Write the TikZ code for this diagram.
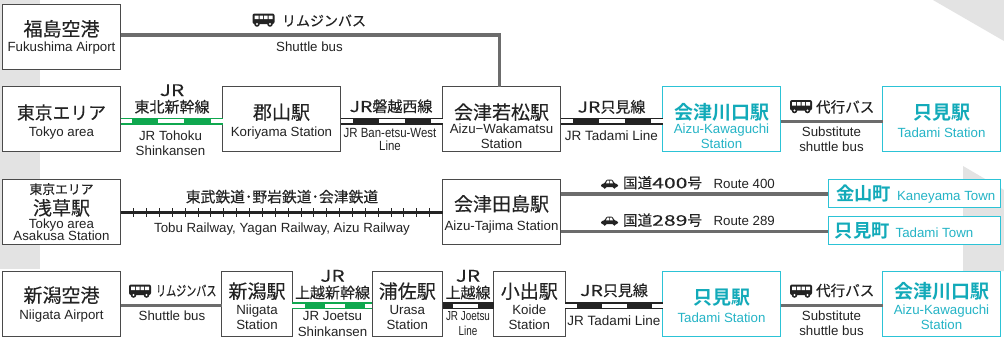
\documentclass[tikz,border=0pt]{standalone}
\usepackage{fontspec}
\setmainfont{Liberation Sans}
\newfontfamily\jpf[FakeBold=.2]{Noto Sans CJK JP}
\newfontfamily\jpb{Noto Sans CJK JP Bold}
\newfontfamily\jpn[FakeStretch=.72,FakeBold=.2]{Noto Sans CJK JP}
\newfontfamily\jpw[FakeStretch=1.3,FakeBold=.2]{Noto Sans CJK JP}
\newfontfamily\jpww[FakeStretch=1.45,FakeBold=.2]{Noto Sans CJK JP}
\newfontfamily\enc[FakeStretch=.86]{Liberation Sans}
\newfontfamily\encc[FakeStretch=.76]{Liberation Sans}
\definecolor{bgray}{HTML}{E3E3E3}
\definecolor{edgec}{HTML}{4A4A4A}
\definecolor{road}{HTML}{6C6C6C}
\definecolor{cy}{HTML}{2CC3D6}
\definecolor{cyt}{HTML}{12AAB9}
\definecolor{cye}{HTML}{25B4C6}
\definecolor{ink}{HTML}{232323}
\definecolor{jrg}{HTML}{0FA84F}
\newcommand{\J}[1]{{\fontsize{19}{19}\selectfont\jpf\color{ink}#1}}
\newcommand{\JT}[1]{{\fontsize{17.8}{19}\selectfont\jpf\color{ink}#1}}
\newcommand{\JC}[1]{{\fontsize{19}{19}\selectfont\jpb\color{cyt}#1}}
\newcommand{\JCS}[1]{{\fontsize{18.3}{19}\selectfont\jpb\color{cyt}#1}}
\newcommand{\JS}[1]{{\fontsize{12.8}{15}\selectfont\jpf\color{ink}#1}}
% lines of a label: last baseline sits #1 below the node centre, baselines #2 apart
\newcommand{\X}[1]{\cr\noalign{\vskip#1pt}}
\newcommand{\LN}[3]{\smash{\lower#1pt\vbox{\lineskiplimit=-50pt\baselineskip=#2pt\halign{\hfil##\hfil\cr#3\crcr}}}}
\tikzset{
 lab/.style={inner sep=0pt,outer sep=0pt},
 stbox/.style={lab,draw=edgec,fill=white,line width=1pt,text=ink,font=\fontsize{13.3}{14.7}\selectfont},
 cybox/.style={stbox,draw=cy,text=cye},
 sz/.style 2 args={minimum width=#1,minimum height=#2},
 en/.style={lab,anchor=base,text=ink,font=\fontsize{13.3}{14.8}\selectfont},
 jp/.style={lab,anchor=base,text=ink,font=\fontsize{15}{16.6}\selectfont\jpf},
 jr/.style={lab,anchor=base,text=ink,font=\fontsize{16}{17}\selectfont\jpw},
 roadl/.style={draw=road,line width=3.4pt},
 railk/.style={draw=ink,line width=7pt},
 railg/.style={draw=jrg,line width=7pt},
 inset/.style={draw=white,line width=4pt},
 busicon/.pic={
   \fill[ink,rounded corners=2pt] (-11,-6.5) rectangle (11,4);
   \fill[white] (-9,-4.3) rectangle (-5,-.8) (-4,-4.3) rectangle (-.5,-.8) (.5,-4.3) rectangle (4,-.8) (5,-4.3) rectangle (9,-.8);
   \fill[ink] (-6.5,4) circle (2.8) (6.5,4) circle (2.8);
   \fill[white] (-6.5,4) circle (1.1) (6.5,4) circle (1.1);
 },
 caricon/.pic={
   \fill[ink,rounded corners=1.2pt] (-8.5,3) -- (-8.5,.2) -- (-4.8,-.6) -- (-3,-4.5) -- (3,-4.5) -- (4.8,-.6) -- (8.5,.2) -- (8.5,3) -- cycle;
   \fill[white] (-2.4,-3.4) -- (-.4,-3.4) -- (-.4,-.7) -- (-3.4,-.7) -- cycle (.4,-3.4) -- (2.4,-3.4) -- (3.4,-.7) -- (.4,-.7) -- cycle;
   \fill[ink] (-4.8,3) circle (1.8) (4.8,3) circle (1.8);
 },
}
\begin{document}
\begin{tikzpicture}[x=1pt,y=-1pt]
\useasboundingbox (0,0) rectangle (1004,338);
\fill[white] (0,0) rectangle (1004,338);
\fill[bgray] (0,0) rectangle (40,269);
\fill[bgray] (933,0) -- (1004,41) -- (1004,0) -- cycle;
\fill[bgray] (963,166) -- (1004,190) -- (1004,271) -- (963,271) -- cycle;
% row guides
\coordinate (y0) at (0,35);
\coordinate (y1) at (0,121.3);
\coordinate (y2) at (0,212.7);
\coordinate (ya) at (0,194);
\coordinate (yb) at (0,231.3);
\coordinate (y3) at (0,305.5);
\coordinate (xv) at (499.5,0);
% row 1
\node[stbox,sz={118}{65}] (fuk) at (61.5,36.5) {\LN{15.2}{14.7}{\J{福島空港}\X{1}Fukushima Airport}};
\node[stbox,sz={118}{65}] (tok) at (61.5,119) {\LN{17.7}{14.7}{\JT{東京エリア}\X{2.7}Tokyo area}};
\node[stbox,sz={118}{65}] (kor) at (281.5,119) {\LN{17.7}{14.7}{\J{郡山駅}\X{2.7}Koriyama Station}};
\node[stbox,sz={118}{65}] (wak) at (501.5,119) {\LN{29}{14.7}{\J{会津若松駅}\X{-.7}Aizu−Wakamatsu\cr Station}};
\node[cybox,sz={118}{65}] (kaw) at (721.5,119) {\LN{29}{14.7}{\JC{会津川口駅}\X{-.7}Aizu-Kawaguchi\cr Station}};
\node[cybox,sz={118}{65}] (tad) at (941.5,119) {\LN{18}{14.7}{\JC{只見駅}\X{3}Tadami Station}};
% row 2
\node[stbox,sz={118}{65}] (asa) at (61.5,212) {\LN{28.7}{14.7}{\JS{東京エリア}\X{6.3}\J{浅草駅}\X{-1.4}Tokyo area\X{-2.3}Asakusa Station}};
\node[stbox,sz={118}{65}] (taj) at (501.5,212) {\LN{18}{14.7}{\J{会津田島駅}\X{4.3}Aizu-Tajima Station}};
\node[cybox,sz={172.5}{28.5}] (kan) at (914.5,193.5) {\LN{7.2}{14.7}{\hspace{2.5pt}\JCS{金山町}\hspace{6pt}Kaneyama Town}};
\node[cybox,sz={172.5}{28.5}] (tto) at (914.5,230.5) {\LN{7.2}{14.7}{\JCS{只見町}\hspace{6pt}Tadami Town\hspace{21pt}}};
% row 3
\node[stbox,sz={118}{65}] (nap) at (61.5,304) {\LN{15}{14.7}{\J{新潟空港}\X{2}Niigata Airport}};
\node[stbox,sz={70.5}{65}] (nii) at (257,304) {\LN{25}{14.7}{\J{新潟駅}\X{1}Niigata\X{.3}Station}};
\node[stbox,sz={70.5}{65}] (ura) at (407.3,304) {\LN{25}{14.7}{\J{浦佐駅}\X{1}Urasa\X{.3}Station}};
\node[stbox,sz={71.5}{65}] (koi) at (529.3,304) {\LN{25}{14.7}{\J{小出駅}\X{1}Koide\X{.3}Station}};
\node[cybox,sz={118}{65}] (tad3) at (721.5,304) {\LN{18.3}{14.7}{\JC{只見駅}\X{3.3}Tadami Station}};
\node[cybox,sz={118}{65}] (kaw3) at (941.5,304) {\LN{25}{14.7}{\JC{会津川口駅}\X{1}Aizu-Kawaguchi\X{.3}Station}};
% connectors
\draw[roadl] (fuk.east |- y0) -- (xv |- y0) -- (xv |- wak.north);
\draw[railg] (tok.east |- y1) -- (kor.west |- y1);
\draw[inset,dash pattern=on 26.2pt off 26.2pt,dash phase=14.7pt] (tok.east |- y1) -- (kor.west |- y1);
\draw[railk] (kor.east |- y1) -- (wak.west |- y1);
\draw[inset,dash pattern=on 26pt off 26pt,dash phase=14pt] (kor.east |- y1) -- (wak.west |- y1);
\draw[railk] (wak.east |- y1) -- (kaw.west |- y1);
\draw[inset,dash pattern=on 26pt off 26pt,dash phase=13.5pt] (wak.east |- y1) -- (kaw.west |- y1);
\draw[roadl] (kaw.east |- y1) -- (tad.west |- y1);
\draw[draw=ink,line width=2.8pt] (asa.east |- y2) -- (taj.west |- y2);
\foreach \k in {0,...,23}{\draw[ink,line width=1pt] ({133.7+12.87*\k},208.2) -- ({133.7+12.87*\k},216.8);}
\draw[roadl] (taj.east |- ya) -- (kan.west |- ya);
\draw[roadl] (taj.east |- yb) -- (tto.west |- yb);
\draw[roadl] (nap.east |- y3) -- (nii.west |- y3);
\draw[railg] (nii.east |- y3) -- (ura.west |- y3);
\draw[inset,dash pattern=on 20pt off 20pt,dash phase=7pt] (nii.east |- y3) -- (ura.west |- y3);
\draw[railk] (ura.east |- y3) -- (koi.west |- y3);
\draw[inset,dash pattern=on 25.6pt off 100pt,dash phase=115.6pt] (ura.east |- y3) -- (koi.west |- y3);
\draw[railk] (koi.east |- y3) -- (tad3.west |- y3);
\draw[inset,dash pattern=on 25pt off 25pt,dash phase=13pt] (koi.east |- y3) -- (tad3.west |- y3);
\draw[roadl] (tad3.east |- y3) -- (kaw3.west |- y3);
% icons
\pic at (263.5,20) {busicon};
\pic at (801,106.5) {busicon};
\pic at (140,291) {busicon};
\pic at (801,291) {busicon};
\pic at (609.5,184) {caricon};
\pic at (609.5,221) {caricon};
% labels row 1
\node[jp,anchor=base west,font=\fontsize{14}{14}\selectfont\jpf] (l1) at (282,26) {リムジンバス};
\node[en] (l2) at (309.5,51) {Shuttle bus};
\node[jr] (l3) at (172,96) {JR};
\node[jp] (l4) at (172,112.5) {東北新幹線};
\node[en] (l5a) at (170.5,140) {JR Tohoku};
\node[en] (l5b) at (170.5,155) {Shinkansen};
\node[jp] (l6) at (391,112) {{\jpw JR}磐越西線};
\node[en,font=\fontsize{13.3}{13.7}\selectfont\enc] (l7a) at (390,137) {JR Ban-etsu-West};
\node[en,font=\fontsize{13.3}{13.7}\selectfont\enc] (l7b) at (390,150.7) {Line};
\node[jp] (l8) at (611.5,112.5) {{\jpw JR}只見線};
\node[en,font=\fontsize{13.5}{14}\selectfont] (l9) at (611.5,140) {JR Tadami Line};
\node[jp,anchor=base west,font=\fontsize{14.6}{14.6}\selectfont\jpf] (l10) at (816,112.5) {代行バス};
\node[en] (l11a) at (831.5,136) {Substitute};
\node[en] (l11b) at (831.5,151) {shuttle bus};
% labels row 2
\node[jp,font=\fontsize{14.8}{14.8}\selectfont\jpf] (l12) at (282,202.3) {東武鉄道･野岩鉄道･会津鉄道};
\node[en] (l13) at (282,232.7) {Tobu Railway, Yagan Railway, Aizu Railway};
\node[jp,anchor=base west,font=\fontsize{14.6}{14.6}\selectfont\jpf] (l14) at (623,188.3) {国道{\jpww 400}号};
\node[en,anchor=base west] (l15) at (713.5,188.3) {Route 400};
\node[jp,anchor=base west,font=\fontsize{14.6}{14.6}\selectfont\jpf] (l16) at (623,225.7) {国道{\jpww 289}号};
\node[en,anchor=base west] (l17) at (713.5,225.7) {Route 289};
% labels row 3
\node[jp,anchor=base west,font=\fontsize{14}{14}\selectfont\jpn] (l18) at (156,296) {リムジンバス};
\node[en] (l19) at (172,320.7) {Shuttle bus};
\node[jr] (l20) at (332.5,281.7) {JR};
\node[jp] (l21) at (332.5,298.3) {上越新幹線};
\node[en] (l22a) at (332.5,320.7) {JR Joetsu};
\node[en] (l22b) at (332.5,336) {Shinkansen};
\node[jr] (l23) at (468,281.7) {JR};
\node[jp] (l24) at (468,298.3) {上越線};
\node[en,font=\fontsize{13}{15}\selectfont\encc] (l25a) at (468,320) {JR Joetsu};
\node[en,font=\fontsize{13}{15}\selectfont\encc] (l25b) at (468,335) {Line};
\node[jp] (l26) at (614,296) {{\jpw JR}只見線};
\node[en,font=\fontsize{13.5}{14}\selectfont] (l27) at (614,325) {JR Tadami Line};
\node[jp,anchor=base west,font=\fontsize{14.6}{14.6}\selectfont\jpf] (l28) at (816,296) {代行バス};
\node[en] (l29a) at (831.5,320) {Substitute};
\node[en] (l29b) at (831.5,335) {shuttle bus};
\end{tikzpicture}
\end{document}
